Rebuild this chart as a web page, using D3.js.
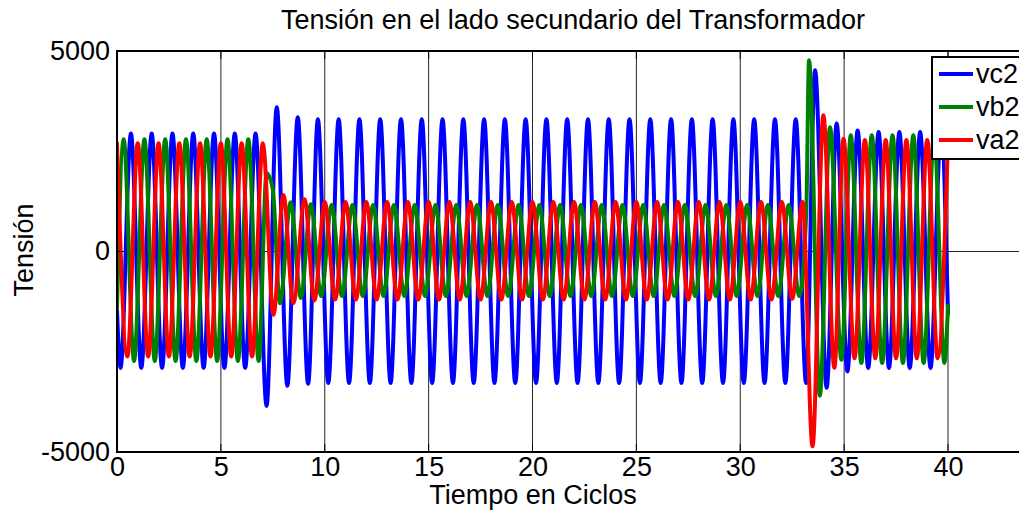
<!DOCTYPE html>
<html>
<head>
<meta charset="utf-8">
<script src="https://cdn.jsdelivr.net/npm/d3@7"></script>
<style>
  body { margin: 0; background: #ffffff; }
  text { font-family: "Liberation Sans", Arial, sans-serif; fill: #000; }
</style>
</head>
<body>
<svg id="chart" width="1019" height="512"></svg>
<script>
// Phase voltages on the transformer secondary: local maxima / minima [cycle, volts]
const vc2 = [
  [0,-1470],[0.17,-2905],[0.67,2940],[1.17,-2905],[1.67,2940],[2.17,-2905],[2.67,2940],[3.17,-2905],[3.67,2940],
  [4.17,-2905],[4.67,2940],[5.17,-2905],[5.67,2940],[6.17,-2905],[6.67,2940],
  [7.2,-3850],[7.69,3600],[8.2,-3350],[8.7,3350],[9.2,-3300],[9.67,3300],
  [10.17,-3280],[10.67,3300],[11.17,-3280],[11.67,3300],[12.17,-3280],[12.67,3300],[13.17,-3280],[13.67,3300],
  [14.17,-3280],[14.67,3300],[15.17,-3280],[15.67,3300],[16.17,-3280],[16.67,3300],[17.17,-3280],[17.67,3300],
  [18.17,-3280],[18.67,3300],[19.17,-3280],[19.67,3300],[20.17,-3280],[20.67,3300],[21.17,-3280],[21.67,3300],
  [22.17,-3280],[22.67,3300],[23.17,-3280],[23.67,3300],[24.17,-3280],[24.67,3300],[25.17,-3280],[25.67,3300],
  [26.17,-3280],[26.67,3300],[27.17,-3280],[27.67,3300],[28.17,-3280],[28.67,3300],[29.17,-3280],[29.67,3300],
  [30.17,-3280],[30.67,3300],[31.17,-3280],[31.67,3300],[32.17,-3280],[32.67,3300],[33.17,-3280],
  [33.6,4520],[34.16,-3400],[34.64,3190],[35.16,-2990],[35.65,3020],
  [36.16,-2905],[36.66,2980],[37.16,-2905],[37.66,2980],[38.16,-2905],[38.66,2980],[39.16,-2905],[39.66,2980],[40,-1550]
];
const vb2 = [
  [0,-1400],[0.32,2800],[0.82,-2730],[1.32,2800],[1.82,-2730],[2.32,2800],[2.82,-2730],[3.32,2800],[3.82,-2730],
  [4.32,2800],[4.82,-2730],[5.32,2800],[5.82,-2730],[6.32,2800],[6.82,-2730],
  [7.2,1950],[7.5,1550],[7.84,-1290],[8.36,1230],[8.85,-1160],[9.33,1180],[9.83,-1110],
  [10.33,1160],[10.83,-1110],[11.33,1160],[11.83,-1110],[12.33,1160],[12.83,-1110],[13.33,1160],[13.83,-1110],
  [14.33,1160],[14.83,-1110],[15.33,1160],[15.83,-1110],[16.33,1160],[16.83,-1110],[17.33,1160],[17.83,-1110],
  [18.33,1160],[18.83,-1110],[19.33,1160],[19.83,-1110],[20.33,1160],[20.83,-1110],[21.33,1160],[21.83,-1110],
  [22.33,1160],[22.83,-1110],[23.33,1160],[23.83,-1110],[24.33,1160],[24.83,-1110],[25.33,1160],[25.83,-1110],
  [26.33,1160],[26.83,-1110],[27.33,1160],[27.83,-1110],[28.33,1160],[28.83,-1110],[29.33,1160],[29.83,-1110],
  [30.33,1160],[30.83,-1110],[31.33,1160],[31.83,-1110],[32.33,1160],[32.84,-1110],
  [33.18,1000],[33.31,4770],[33.83,-3600],[34.32,3100],[34.87,-2700],
  [35.32,2900],[35.83,-2780],[36.33,2900],[36.83,-2780],[37.33,2900],[37.83,-2780],[38.33,2900],[38.83,-2780],
  [39.33,2900],[39.83,-2780],[40,-1350]
];
const va2 = [
  [0,2700],[0.5,-2620],[1,2700],[1.5,-2620],[2,2700],[2.5,-2620],[3,2700],[3.5,-2620],[4,2700],[4.5,-2620],
  [5,2700],[5.5,-2620],[6,2700],[6.5,-2620],[7.02,2700],
  [7.53,-1580],[8.01,1410],[8.49,-1290],[9.03,1300],[9.5,-1220],
  [10,1235],[10.5,-1200],[11,1235],[11.5,-1200],[12,1235],[12.5,-1200],[13,1235],[13.5,-1200],[14,1235],[14.5,-1200],
  [15,1235],[15.5,-1200],[16,1235],[16.5,-1200],[17,1235],[17.5,-1200],[18,1235],[18.5,-1200],[19,1235],[19.5,-1200],
  [20,1235],[20.5,-1200],[21,1235],[21.5,-1200],[22,1235],[22.5,-1200],[23,1235],[23.5,-1200],[24,1235],[24.5,-1200],
  [25,1235],[25.5,-1200],[26,1235],[26.5,-1200],[27,1235],[27.5,-1200],[28,1235],[28.5,-1200],[29,1235],[29.5,-1200],
  [30,1235],[30.5,-1200],[31,1235],[31.5,-1200],[32,1235],[32.5,-1180],[33,1235],
  [33.48,-4860],[34,3400],[34.53,-2900],[34.97,2810],
  [35.5,-2660],[36,2780],[36.5,-2660],[37,2780],[37.5,-2660],[38,2780],[38.5,-2660],[39,2780],[39.5,-2660],[40,2780]
];

const seriesNames = ["vc2", "vb2", "va2"];
const xTicks = [0, 5, 10, 15, 20, 25, 30, 35, 40, 45];
const xTickLabels = ["0", "5", "10", "15", "20", "25", "30", "35", "40", ""];
const yTicks = [-5000, 0, 5000];
const yTickLabels = ["-5000", "0", "5000"];
const xDomain = [0, 45];
const yDomain = [-5000, 5000];

const titleText = "Tensión en el lado secundario del Transformador";
const xLabelText = "Tiempo en Ciclos";
const yLabelText = "Tensión";

// ---- layout ----
const svg = d3.select("#chart");
const W = 1019, H = 512;
const plotLeft = 117, plotTop = 51, plotBottom = 452;
const pxPerUnit = 20.775;
const plotRight = plotLeft + (xDomain[1] - xDomain[0]) * pxPerUnit;

const x = d3.scaleLinear().domain(xDomain).range([plotLeft, plotRight]);
const y = d3.scaleLinear().domain(yDomain).range([plotBottom, plotTop]);

svg.append("rect").attr("width", W).attr("height", H).attr("fill", "#fff");

svg.append("defs").append("clipPath").attr("id", "plotClip")
  .append("rect").attr("x", plotLeft).attr("y", plotTop)
  .attr("width", plotRight - plotLeft).attr("height", plotBottom - plotTop);

// grid
const grid = svg.append("g").attr("stroke", "#262626").attr("stroke-width", 1);
grid.selectAll("line.gx").data(xTicks.filter(d => d > xDomain[0] && d < xDomain[1]))
  .join("line").attr("class", "gx")
  .attr("x1", d => x(d)).attr("x2", d => x(d)).attr("y1", plotTop).attr("y2", plotBottom);
grid.selectAll("line.gy").data(yTicks.filter(d => d > yDomain[0] && d < yDomain[1]))
  .join("line").attr("class", "gy")
  .attr("x1", plotLeft).attr("x2", plotRight).attr("y1", d => y(d)).attr("y2", d => y(d));

// curves
const colors = { vc2: "#0000ff", vb2: "#008000", va2: "#ff0000" };
const seriesData = { vc2, vb2, va2 };
const line = d3.line().x(d => x(d[0])).y(d => y(d[1])).curve(d3.curveMonotoneX);

const plot = svg.append("g").attr("clip-path", "url(#plotClip)");
seriesNames.forEach(name => {
  plot.append("path")
    .datum(seriesData[name])
    .attr("d", line)
    .attr("fill", "none")
    .attr("stroke", colors[name])
    .attr("stroke-width", 4)
    .attr("stroke-linejoin", "round")
    .attr("stroke-linecap", "round");
});

// axes (labels via d3 axis, inward tick marks)
const fontSize = 27;
const xAxis = svg.append("g").attr("transform", `translate(0,${plotBottom})`)
  .call(d3.axisBottom(x).tickValues(xTicks).tickSize(0).tickPadding(5)
    .tickFormat((d, i) => xTickLabels[i]));
xAxis.select(".domain").remove();
xAxis.selectAll("text").attr("font-size", fontSize).attr("dy", "0.71em").attr("fill", "#000");

const yAxis = svg.append("g").attr("transform", `translate(${plotLeft},0)`)
  .call(d3.axisLeft(y).tickValues(yTicks).tickSize(0).tickPadding(7)
    .tickFormat((d, i) => yTickLabels[i]));
yAxis.select(".domain").remove();
yAxis.selectAll("text").attr("font-size", fontSize).attr("dy", "0.3em").attr("fill", "#000");

const tickLen = 8;
const ticks = svg.append("g").attr("stroke", "#000").attr("stroke-width", 1);
xTicks.forEach(t => {
  ticks.append("line").attr("x1", x(t)).attr("x2", x(t)).attr("y1", plotBottom).attr("y2", plotBottom - tickLen);
  ticks.append("line").attr("x1", x(t)).attr("x2", x(t)).attr("y1", plotTop).attr("y2", plotTop + tickLen);
});
yTicks.forEach(t => {
  ticks.append("line").attr("x1", plotLeft).attr("x2", plotLeft + tickLen).attr("y1", y(t)).attr("y2", y(t));
  ticks.append("line").attr("x1", plotRight).attr("x2", plotRight - tickLen).attr("y1", y(t)).attr("y2", y(t));
});

// axes box
svg.append("rect").attr("x", plotLeft).attr("y", plotTop)
  .attr("width", plotRight - plotLeft).attr("height", plotBottom - plotTop)
  .attr("fill", "none").attr("stroke", "#000").attr("stroke-width", 2);

// titles
svg.append("text").attr("x", 573).attr("y", 29).attr("text-anchor", "middle")
  .attr("font-size", fontSize).text(titleText);
svg.append("text").attr("x", 533).attr("y", 504).attr("text-anchor", "middle")
  .attr("font-size", fontSize).text(xLabelText);
svg.append("text").attr("transform", "translate(33,250) rotate(-90)").attr("text-anchor", "middle")
  .attr("font-size", fontSize).text(yLabelText);

// legend
const lg = svg.append("g");
lg.append("rect").attr("x", 932).attr("y", 57).attr("width", 120).attr("height", 102)
  .attr("fill", "#fff").attr("stroke", "#000").attr("stroke-width", 2);
const rowY = [74, 107, 140];
seriesNames.forEach((name, i) => {
  lg.append("line").attr("x1", 939).attr("x2", 973).attr("y1", rowY[i]).attr("y2", rowY[i])
    .attr("stroke", colors[name]).attr("stroke-width", 4);
  lg.append("text").attr("x", 976).attr("y", rowY[i]).attr("dy", "0.35em")
    .attr("font-size", fontSize).text(name);
});
</script>
</body>
</html>
